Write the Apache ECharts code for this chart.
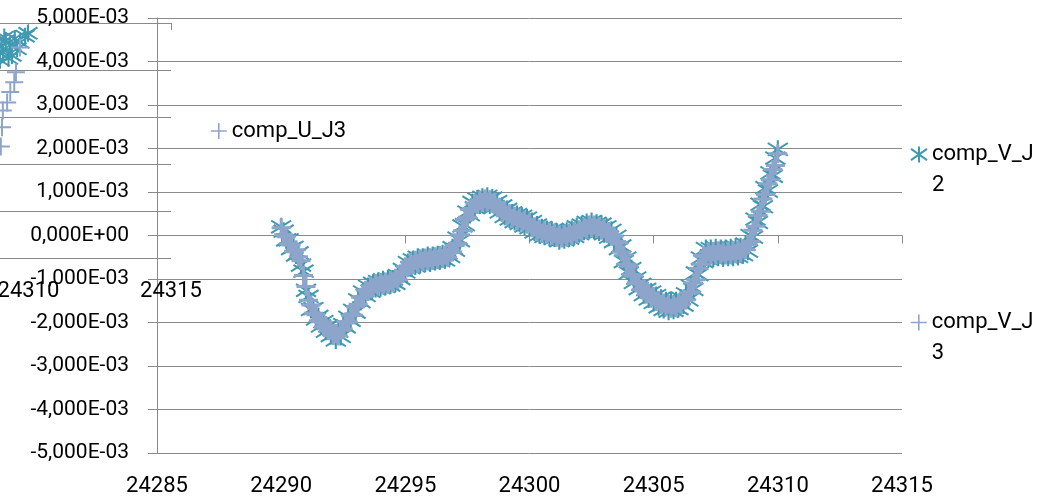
<!DOCTYPE html>
<html>
<head>
<meta charset="utf-8">
<script src="https://cdn.jsdelivr.net/npm/echarts@6/dist/echarts.min.js"></script>
<style>
html,body{margin:0;padding:0;background:#fff;}
#c{width:1042px;height:501px;}
</style>
</head>
<body>
<div id="c"></div>
<script>
// ---- data (values in units of 1E-3) ----
const xValues = [
24290.0,24290.1,24290.2,24290.3,24290.4,24290.5,24290.6,24290.7,24290.8,24290.9,
24291.0,24291.1,24291.2,24291.3,24291.4,24291.5,24291.6,24291.7,24291.8,24291.9,
24292.0,24292.1,24292.2,24292.3,24292.4,24292.5,24292.6,24292.7,24292.8,24292.9,
24293.0,24293.1,24293.2,24293.3,24293.4,24293.5,24293.6,24293.7,24293.8,24293.9,
24294.0,24294.1,24294.2,24294.3,24294.4,24294.5,24294.6,24294.7,24294.8,24294.9,
24295.0,24295.1,24295.2,24295.3,24295.4,24295.5,24295.6,24295.7,24295.8,24295.9,
24296.0,24296.1,24296.2,24296.3,24296.4,24296.5,24296.6,24296.7,24296.8,24296.9,
24297.0,24297.1,24297.2,24297.3,24297.4,24297.5,24297.6,24297.7,24297.8,24297.9,
24298.0,24298.1,24298.2,24298.3,24298.4,24298.5,24298.6,24298.7,24298.8,24298.9,
24299.0,24299.1,24299.2,24299.3,24299.4,24299.5,24299.6,24299.7,24299.8,24299.9,
24300.0,24300.1,24300.2,24300.3,24300.4,24300.5,24300.6,24300.7,24300.8,24300.9,
24301.0,24301.1,24301.2,24301.3,24301.4,24301.5,24301.6,24301.7,24301.8,24301.9,
24302.0,24302.1,24302.2,24302.3,24302.4,24302.5,24302.6,24302.7,24302.8,24302.9,
24303.0,24303.1,24303.2,24303.3,24303.4,24303.5,24303.6,24303.7,24303.8,24303.9,
24304.0,24304.1,24304.2,24304.3,24304.4,24304.5,24304.6,24304.7,24304.8,24304.9,
24305.0,24305.1,24305.2,24305.3,24305.4,24305.5,24305.6,24305.7,24305.8,24305.9,
24306.0,24306.1,24306.2,24306.3,24306.4,24306.5,24306.6,24306.7,24306.8,24306.9,
24307.0,24307.1,24307.2,24307.3,24307.4,24307.5,24307.6,24307.7,24307.8,24307.9,
24308.0,24308.1,24308.2,24308.3,24308.4,24308.5,24308.6,24308.7,24308.8,24308.9,
24309.0,24309.1,24309.2,24309.3,24309.4,24309.5,24309.6,24309.7,24309.8,24309.9,
24310.0
];
const compVJ2 = [
0.2,0.1,-0.1,-0.1,-0.3,-0.27,-0.45,-0.4,-0.68,-0.82,
-1.26,-1.4,-1.7,-1.68,-1.92,-1.86,-2.08,-1.98,-2.2,-2.08,
-2.3,-2.18,-2.4,-2.2,-2.32,-2.05,-2.1,-1.88,-1.95,-1.72,
-1.76,-1.48,-1.52,-1.3,-1.38,-1.17,-1.28,-1.1,-1.22,-1.06,
-1.2,-1.02,-1.17,-1.0,-1.14,-1.0,-1.1,-0.92,-0.99,-0.78,
-0.84,-0.62,-0.74,-0.56,-0.7,-0.5,-0.66,-0.5,-0.64,-0.46,
-0.63,-0.46,-0.6,-0.44,-0.58,-0.42,-0.56,-0.4,-0.48,-0.28,
-0.34,-0.06,-0.12,0.22,0.25,0.54,0.48,0.76,0.64,0.84,
0.7,0.88,0.72,0.9,0.7,0.86,0.66,0.78,0.54,0.68,
0.44,0.6,0.38,0.52,0.32,0.48,0.28,0.44,0.22,0.4,
0.18,0.32,0.08,0.24,0.02,0.18,-0.02,0.14,-0.04,0.12,
-0.06,0.08,-0.12,0.06,-0.1,0.1,-0.06,0.14,-0.02,0.2,
0.04,0.24,0.1,0.3,0.14,0.32,0.12,0.28,0.08,0.26,
0.04,0.2,-0.04,0.12,-0.14,-0.02,-0.3,-0.24,-0.6,-0.52,
-0.86,-0.76,-1.08,-0.98,-1.22,-1.12,-1.36,-1.24,-1.46,-1.3,
-1.54,-1.38,-1.64,-1.44,-1.7,-1.5,-1.74,-1.52,-1.72,-1.5,
-1.68,-1.44,-1.6,-1.34,-1.48,-1.16,-1.24,-0.86,-0.9,-0.52,
-0.6,-0.3,-0.54,-0.3,-0.52,-0.28,-0.5,-0.3,-0.52,-0.3,
-0.5,-0.28,-0.5,-0.26,-0.48,-0.26,-0.44,-0.2,-0.36,0.0,
-0.04,0.38,0.3,0.72,0.66,1.1,1.02,1.44,1.36,1.78,
1.98
];
const compVJ3 = [
0.18,0.02,-0.03,-0.19,-0.22,-0.36,-0.33,-0.49,-0.58,-0.92,
-1.17,-1.49,-1.6,-1.79,-1.82,-1.96,-1.98,-2.1,-2.07,-2.19,
-2.17,-2.3,-2.25,-2.31,-2.18,-2.15,-1.98,-1.99,-1.84,-1.83,
-1.64,-1.58,-1.42,-1.4,-1.26,-1.29,-1.16,-1.2,-1.11,-1.16,
-1.08,-1.14,-1.07,-1.12,-1.04,-1.09,-0.98,-1.01,-0.88,-0.87,
-0.72,-0.74,-0.62,-0.67,-0.57,-0.64,-0.54,-0.6,-0.52,-0.58,
-0.51,-0.57,-0.49,-0.55,-0.46,-0.53,-0.45,-0.5,-0.39,-0.38,
-0.23,-0.18,0.02,0.11,0.36,0.42,0.6,0.62,0.74,0.71,
0.81,0.76,0.84,0.77,0.82,0.74,0.76,0.64,0.65,0.53,
0.57,0.45,0.5,0.39,0.44,0.35,0.4,0.31,0.35,0.26,
0.3,0.18,0.2,0.09,0.15,0.05,0.11,0.03,0.08,0.0,
0.05,-0.04,0.02,-0.06,0.03,-0.03,0.06,0.0,0.09,0.05,
0.13,0.1,0.19,0.15,0.24,0.18,0.24,0.16,0.2,0.12,
0.16,0.06,0.09,-0.02,-0.01,-0.14,-0.17,-0.38,-0.45,-0.66,
-0.7,-0.9,-0.93,-1.09,-1.1,-1.24,-1.23,-1.35,-1.33,-1.44,
-1.4,-1.52,-1.49,-1.59,-1.55,-1.64,-1.58,-1.67,-1.6,-1.66,
-1.55,-1.59,-1.46,-1.48,-1.32,-1.3,-1.09,-1.02,-0.76,-0.66,
-0.46,-0.48,-0.38,-0.45,-0.37,-0.44,-0.35,-0.43,-0.38,-0.45,
-0.36,-0.44,-0.35,-0.42,-0.34,-0.4,-0.31,-0.33,-0.2,-0.14,
0.12,0.21,0.46,0.56,0.84,0.94,1.19,1.28,1.52,1.61,
1.88
];
// overlaid (stray) copy of the chart in the top-left corner
const overlayJ2X = [24309.0,24309.05,24309.1,24309.15,24309.2,24309.3,24309.35,24309.42,24309.52,24309.6,24309.7,24309.88,24309.98];
const overlayJ2Y = [-0.79,-0.5,-0.62,-0.3,-0.37,-0.75,-0.47,-0.69,-0.33,-0.55,-0.41,-0.28,-0.22];
const overlayJ3X = [24309.7,24309.56,24309.5,24309.36,24309.25,24309.1,24309.07,24309.03];
const overlayJ3Y = [-0.52,-1.05,-1.26,-1.47,-1.69,-1.86,-2.22,-2.63];

const yTickValues = [-5,-4,-3,-2,-1,0,1,2,3,4,5];
const yTickLabels = ['-5,000E-03','-4,000E-03','-3,000E-03','-2,000E-03','-1,000E-03','0,000E+00','1,000E-03','2,000E-03','3,000E-03','4,000E-03','5,000E-03'];
const xTickValues = [24285,24290,24295,24300,24305,24310,24315];
const xTickLabels = ['24285','24290','24295','24300','24305','24310','24315'];
const overlayXTicks = [24310,24315];

const seriesNames = ['comp_V_J2','comp_V_J3','comp_U_J2','comp_U_J3'];
const legendTexts = [' \ncomp_V_J\n2', ' \ncomp_V_J\n3', 'comp_U_J3'];

// ---- styling ----
const TEAL = '#3F9AB1';
const BLUE = '#8EA5CB';
const GRID = '#8A8A8A';
const FONT = 'Roboto';
const FS = 22;
const ASTERISK = 'path://M0,-10L0,10M-10,-7L10,7M-10,7L10,-7';
const PLUS = 'path://M0,-10L0,10M-10,0L10,0';

const pairs = (xs, ys) => xs.map((x, i) => [x, ys[i]]);
const yFmt = v => { const i = yTickValues.indexOf(Math.round(v)); return i >= 0 ? yTickLabels[i] : ''; };
const xFmt = v => { const i = xTickValues.indexOf(Math.round(v)); return i >= 0 ? xTickLabels[i] : ''; };

const chart = echarts.init(document.getElementById('c'), null, {renderer: 'canvas'});
const lineStyle = {color: GRID, width: 1};

chart.setOption({
  animation: false,
  textStyle: {fontFamily: FONT},
  grid: [
    {left: 157, right: 140, top: 18, bottom: 48, outerBoundsMode: 'none'},
    {left: 0, right: 871, top: 23, bottom: 243, outerBoundsMode: 'none'}
  ],
  xAxis: [
    {gridIndex: 0, type: 'value', min: 24285, max: 24315, interval: 5, position: 'bottom',
     axisLine: {show: false, onZero: false}, axisTick: {show: false}, splitLine: {show: false},
     axisLabel: {margin: 22, fontSize: FS, color: '#000', fontFamily: FONT, formatter: xFmt}},
    {gridIndex: 0, type: 'value', min: 24285, max: 24315, interval: 5, position: 'top',
     axisLine: {show: true, onZero: true, lineStyle: lineStyle},
     axisTick: {show: true, inside: true, length: 8, lineStyle: lineStyle},
     axisLabel: {show: false}, splitLine: {show: false}},
    {gridIndex: 1, type: 'value', min: 24309, max: 24315, position: 'bottom',
     axisLine: {show: false, onZero: false}, axisTick: {show: false}, splitLine: {show: false},
     axisLabel: {margin: 22, fontSize: FS, color: '#000', fontFamily: FONT, customValues: overlayXTicks, formatter: xFmt}},
    {gridIndex: 1, type: 'value', min: 24309, max: 24315, position: 'top',
     axisLine: {show: true, onZero: true, lineStyle: lineStyle},
     axisTick: {show: true, inside: true, length: 7, customValues: overlayXTicks, lineStyle: lineStyle},
     axisLabel: {show: false}, splitLine: {show: false}}
  ],
  yAxis: [
    {gridIndex: 0, type: 'value', min: -5, max: 5, interval: 1,
     axisLine: {show: true, onZero: false, lineStyle: lineStyle},
     axisTick: {show: true, length: 9, lineStyle: lineStyle},
     splitLine: {show: true, lineStyle: lineStyle},
     axisLabel: {margin: 28, fontSize: 21, color: '#000', fontFamily: FONT, formatter: yFmt}},
    {gridIndex: 1, type: 'value', min: -5, max: 0, interval: 1,
     axisLine: {show: false, onZero: false}, axisTick: {show: false}, axisLabel: {show: false},
     splitLine: {show: true, lineStyle: lineStyle}}
  ],
  legend: [
    {left: 910, top: 108, padding: 0, itemWidth: 16, itemHeight: 16,
     data: [{name: seriesNames[0], icon: ASTERISK, itemStyle: {color: TEAL, borderColor: TEAL, borderWidth: 2}}],
     formatter: () => legendTexts[0],
     textStyle: {fontSize: FS, fontFamily: FONT, color: '#000', lineHeight: 31}},
    {left: 910, top: 276, padding: 0, itemWidth: 16, itemHeight: 16,
     data: [{name: seriesNames[1], icon: PLUS, itemStyle: {color: BLUE, borderColor: BLUE, borderWidth: 1.6}}],
     formatter: () => legendTexts[1],
     textStyle: {fontSize: FS, fontFamily: FONT, color: '#000', lineHeight: 31}},
    {left: 210, top: 120, padding: 0, itemWidth: 16, itemHeight: 16,
     data: [{name: seriesNames[3], icon: PLUS, itemStyle: {color: BLUE, borderColor: BLUE, borderWidth: 1.6}}],
     formatter: () => legendTexts[2],
     textStyle: {fontSize: FS, fontFamily: FONT, color: '#000'}}
  ],
  series: [
    {name: seriesNames[2], type: 'scatter', xAxisIndex: 2, yAxisIndex: 1,
     data: pairs(overlayJ2X, overlayJ2Y), symbol: ASTERISK, symbolSize: [19, 17],
     itemStyle: {color: TEAL, borderColor: TEAL, borderWidth: 2, opacity: 1}},
    {name: seriesNames[3], type: 'scatter', xAxisIndex: 2, yAxisIndex: 1,
     data: pairs(overlayJ3X, overlayJ3Y), symbol: PLUS, symbolSize: 18,
     itemStyle: {color: BLUE, borderColor: BLUE, borderWidth: 2, opacity: 1}},
    {name: seriesNames[0], type: 'scatter', xAxisIndex: 0, yAxisIndex: 0,
     data: pairs(xValues, compVJ2), symbol: ASTERISK, symbolSize: [20, 18],
     itemStyle: {color: TEAL, borderColor: TEAL, borderWidth: 2, opacity: 1}},
    {name: seriesNames[1], type: 'scatter', xAxisIndex: 0, yAxisIndex: 0,
     data: pairs(xValues, compVJ3), symbol: PLUS, symbolSize: 19,
     itemStyle: {color: BLUE, borderColor: BLUE, borderWidth: 3, opacity: 1}}
  ]
});
</script>
</body>
</html>
